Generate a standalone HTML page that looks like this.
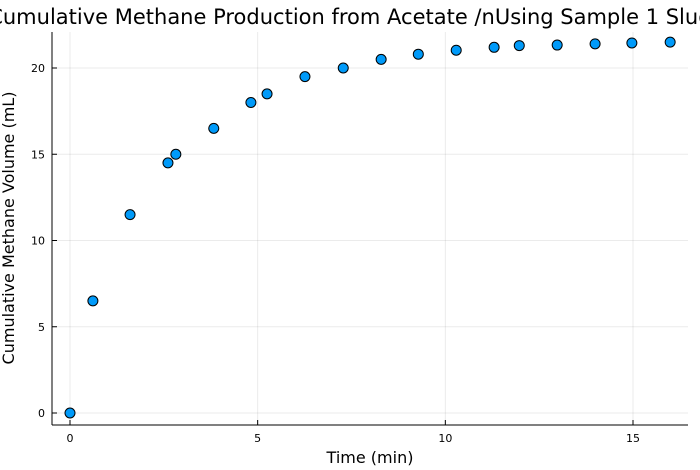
<!DOCTYPE html>
<html><head><meta charset="utf-8"><style>
html,body{margin:0;padding:0;background:#fff;overflow:hidden;}
svg{display:block;font-family:"DejaVu Sans","Liberation Sans",sans-serif;}
</style></head><body>
<svg id="chart" width="700" height="470" viewBox="0 0 700 470">
<text x="363" y="24" text-anchor="middle" font-size="21" fill="#000">Cumulative Methane Production from Acetate /nUsing Sample 1 Sludge</text>
<g id="grid"></g>
<g id="axes"></g>
<g id="points"></g>
<text x="370" y="463" text-anchor="middle" font-size="16">Time (min)</text>
<text transform="translate(14,228) rotate(-90)" text-anchor="middle" font-size="16">Cumulative Methane Volume (mL)</text>
</svg>
<script>
const times = [0, 0.61, 1.6, 2.61, 2.82, 3.83, 4.82, 5.25, 6.26, 7.28, 8.29, 9.28, 10.29, 11.3, 11.97, 12.98, 13.99, 14.97, 15.99];
const volumes = [0, 6.5, 11.5, 14.5, 15.0, 16.5, 18.0, 18.5, 19.5, 20.0, 20.5, 20.8, 21.03, 21.2, 21.3, 21.33, 21.4, 21.45, 21.5];
const xTicks = [0, 5, 10, 15];
const yTicks = [0, 5, 10, 15, 20];
const L = 52, R = 688, T = 32, B = 425;
const xs = v => 70 + v * (633 - 70) / 15;
const ys = v => 413 - v * (413 - 68) / 20;
const NS = "http://www.w3.org/2000/svg";
function mk(tag, attrs, parent, text) {
  const e = document.createElementNS(NS, tag);
  for (const k in attrs) e.setAttribute(k, attrs[k]);
  if (text !== undefined) e.textContent = text;
  document.getElementById(parent).appendChild(e);
  return e;
}
xTicks.forEach(t => {
  const g = mk("line", {x1: xs(t), x2: xs(t), y1: T, y2: B, stroke: "#000", "stroke-opacity": 0.08, "stroke-width": 1}, "grid");
  
  
  const tk = mk("line", {x1: xs(t), x2: xs(t), y1: B, y2: B - 5, stroke: "#000"}, "axes");
  
  
  const lb = mk("text", {x: xs(t), y: 442, "text-anchor": "middle", "font-size": 11}, "axes", String(t));
  
  
});
yTicks.forEach(t => {
  const g = mk("line", {x1: L, x2: R, y1: ys(t), y2: ys(t), stroke: "#000", "stroke-opacity": 0.08, "stroke-width": 1}, "grid");
  
  
  const tk = mk("line", {x1: L, x2: L + 5, y1: ys(t), y2: ys(t), stroke: "#000"}, "axes");
  
  
  const lb = mk("text", {x: 45, y: ys(t) + 4, "text-anchor": "end", "font-size": 11}, "axes", String(t));
  
  
});
const xa = mk("line", {x1: L, x2: R, y1: B, y2: B, stroke: "#000"}, "axes");


const ya = mk("line", {x1: L, x2: L, y1: T, y2: B, stroke: "#000"}, "axes");


times.forEach((t, i) => {
  const c = mk("circle", {cx: xs(t), cy: ys(volumes[i]), r: 5, fill: "#009af9", stroke: "#000", "stroke-width": 1}, "points");
  
  
});
</script>
</body></html>
